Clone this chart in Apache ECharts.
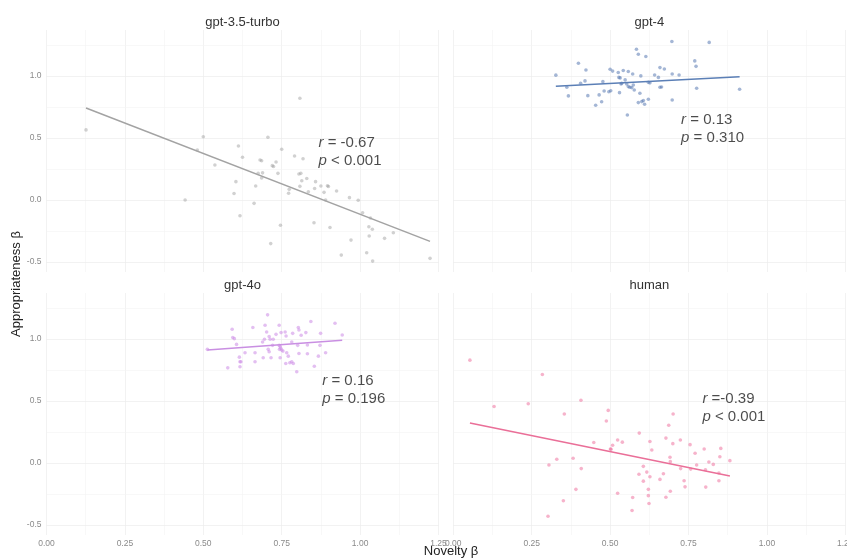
<!DOCTYPE html>
<html><head><meta charset="utf-8">
<script src="https://cdn.jsdelivr.net/npm/echarts@6/dist/echarts.min.js"></script>
<style>html,body{margin:0;padding:0;background:#fff}#c{width:847px;height:560px}</style>
</head><body><div id="c"></div>
<script>
const panelNames = ['gpt-3.5-turbo', 'gpt-4', 'gpt-4o', 'human'];
const yTickLabels = [-0.5, 0, 0.5, 1.0];
const yGridValues = [-0.5, -0.25, 0, 0.25, 0.5, 0.75, 1.0, 1.25];

const gpt35X = [0.126,0.442,0.481,0.500,0.537,0.598,0.604,0.612,0.617,0.625,0.662,0.667,0.675,0.681,0.686,0.689,0.686,0.706,0.715,0.720,0.724,0.732,0.738,0.746,0.750,0.772,0.774,0.791,0.808,0.805,0.811,0.814,0.818,0.808,0.830,0.835,0.853,0.858,0.855,0.875,0.885,0.890,0.896,0.899,0.904,0.925,0.940,0.966,0.971,0.994,1.008,1.021,1.028,1.029,1.033,1.039,1.040,1.078,1.106,1.223];
const gpt35Y = [0.565,0.000,0.403,0.510,0.282,0.052,0.148,0.435,-0.127,0.345,-0.027,0.113,0.215,0.323,0.317,0.219,0.177,0.506,-0.351,0.277,0.270,0.306,0.215,-0.203,0.409,0.054,0.086,0.355,0.820,0.210,0.215,0.155,0.333,0.110,0.173,0.067,-0.183,0.148,0.093,0.113,0.062,0.000,0.115,0.109,-0.222,0.073,-0.444,0.019,-0.323,-0.002,-0.102,-0.425,-0.215,-0.290,-0.145,-0.235,-0.492,-0.309,-0.264,-0.470];

const gpt4X = [0.327,0.362,0.367,0.399,0.406,0.420,0.423,0.429,0.454,0.465,0.473,0.477,0.481,0.496,0.502,0.500,0.508,0.526,0.532,0.528,0.530,0.535,0.537,0.542,0.548,0.555,0.558,0.553,0.558,0.563,0.569,0.574,0.577,0.572,0.584,0.590,0.590,0.601,0.606,0.610,0.595,0.598,0.614,0.622,0.627,0.622,0.642,0.654,0.659,0.659,0.664,0.673,0.697,0.698,0.698,0.720,0.770,0.774,0.776,0.816,0.913];
const gpt4Y = [1.006,0.909,0.839,1.102,0.941,0.960,1.048,0.841,0.764,0.847,0.792,0.954,0.879,0.873,0.881,1.054,1.039,1.028,0.984,0.988,0.865,0.935,0.941,1.044,0.968,0.685,1.035,0.935,0.914,0.909,0.906,0.927,0.887,1.015,1.215,1.175,0.785,0.793,0.801,0.772,0.860,1.000,1.156,0.948,0.944,0.812,1.008,0.988,1.067,0.909,0.911,1.056,1.277,1.015,0.806,1.008,1.121,1.077,0.901,1.270,0.893];

const gpt4oX = [0.513,0.578,0.592,0.594,0.599,0.606,0.615,0.617,0.620,0.617,0.633,0.658,0.665,0.665,0.691,0.689,0.695,0.697,0.705,0.702,0.707,0.710,0.710,0.713,0.716,0.721,0.723,0.732,0.742,0.742,0.745,0.743,0.747,0.745,0.748,0.750,0.754,0.761,0.764,0.766,0.763,0.771,0.776,0.782,0.787,0.782,0.785,0.803,0.805,0.801,0.805,0.798,0.812,0.827,0.832,0.832,0.843,0.854,0.867,0.874,0.872,0.890,0.920,0.943];
const gpt4oY = [0.916,0.767,1.078,1.011,1.002,0.956,0.853,0.816,0.816,0.776,0.889,1.092,0.816,0.889,0.848,0.975,0.997,1.110,1.194,1.056,0.916,0.897,1.019,0.997,0.848,0.948,0.997,1.037,1.110,0.948,0.938,0.916,0.924,0.848,1.051,0.910,0.902,1.056,1.024,0.889,0.802,0.861,0.808,0.816,0.802,0.975,1.045,1.092,1.072,0.948,0.883,0.735,1.029,1.051,0.951,0.881,1.140,0.780,0.861,1.045,0.948,0.889,1.126,1.032];

const humanX = [0.053,0.130,0.239,0.284,0.354,0.305,0.330,0.302,0.351,0.382,0.391,0.407,0.408,0.448,0.488,0.494,0.501,0.503,0.508,0.524,0.524,0.539,0.570,0.572,0.593,0.592,0.606,0.606,0.617,0.622,0.622,0.624,0.627,0.627,0.633,0.659,0.670,0.678,0.678,0.687,0.691,0.692,0.692,0.701,0.700,0.724,0.725,0.736,0.739,0.755,0.757,0.771,0.776,0.800,0.804,0.805,0.815,0.829,0.847,0.847,0.850,0.853,0.882];
const humanY = [0.829,0.456,0.478,0.713,0.395,-0.016,0.030,-0.429,-0.304,0.038,-0.212,0.506,-0.045,0.165,0.338,0.424,0.113,0.111,0.143,-0.243,0.186,0.168,-0.383,-0.278,0.241,-0.091,-0.027,-0.146,-0.073,-0.212,-0.263,-0.326,0.173,-0.111,0.105,-0.132,-0.087,0.201,-0.276,0.304,0.046,0.011,-0.227,0.395,0.156,0.186,-0.045,-0.143,-0.192,0.148,-0.049,0.079,-0.016,0.113,-0.054,-0.194,0.008,-0.011,-0.081,-0.143,0.051,0.118,0.019];

// fitted regression line end points
const gpt35FitX = [0.126, 1.223], gpt35FitY = [0.742, -0.333];
const gpt4FitX = [0.327, 0.913], gpt4FitY = [0.917, 0.994];
const gpt4oFitX = [0.513, 0.943], gpt4oFitY = [0.910, 0.990];
const humanFitX = [0.053, 0.882], humanFitY = [0.322, -0.105];

const rTexts = [' = -0.67', ' = 0.13', ' = 0.16', ' =-0.39'];
const pTexts = [' < 0.001', ' = 0.310', ' = 0.196', ' < 0.001'];
const annX = [0.869, 0.728, 0.881, 0.796];
const annY = [0.387, 0.573, 0.583, 0.438];

const pointsX = [gpt35X, gpt4X, gpt4oX, humanX];
const pointsY = [gpt35Y, gpt4Y, gpt4oY, humanY];
const fitsX = [gpt35FitX, gpt4FitX, gpt4oFitX, humanFitX];
const fitsY = [gpt35FitY, gpt4FitY, gpt4oFitY, humanFitY];

const pointColors = ['rgba(150,150,150,0.55)', 'rgba(80,115,175,0.65)', 'rgba(205,140,230,0.7)', 'rgba(238,110,155,0.65)'];
const lineColors = ['#a3a3a3', '#5b7fb6', '#c98fe2', '#ea6f98'];

const FONT = '"Liberation Sans", Arial, Helvetica, sans-serif';
const gridLeft = [46.5, 453.3, 46.5, 453.3];
const gridTop = [30, 30, 293, 293];
const PW = 392, PH = 242;

const zip = (xs, ys) => xs.map((x, i) => [x, ys[i]]);

const grids = [], xAxes = [], yAxes = [], series = [], graphics = [];
for (let i = 0; i < 4; i++) {
  grids.push({left: gridLeft[i], top: gridTop[i], width: PW, height: PH, containLabel: false, outerBoundsMode: 'none'});
  xAxes.push({
    type: 'value', gridIndex: i, min: 0, max: 1.25, interval: 0.25,
    axisLine: {show: false}, axisTick: {show: false},
    axisLabel: {show: i >= 2, fontSize: 8.5, color: '#8a8a8a', margin: 4, fontFamily: FONT,
      formatter: v => v.toFixed(2), showMinLabel: true, showMaxLabel: true, hideOverlap: false},
    splitLine: {show: true, lineStyle: {color: '#ececec', width: 0.7}},
    minorTick: {show: false, splitNumber: 2},
    minorSplitLine: {show: true, lineStyle: {color: '#f3f3f3', width: 0.6}}
  });
  yAxes.push({
    type: 'value', gridIndex: i, min: -0.58, max: 1.37,
    axisLine: {show: false},
    axisTick: {show: false, customValues: yTickLabels},
    axisLabel: {show: i % 2 === 0, fontSize: 8.5, color: '#8a8a8a', margin: 5, fontFamily: FONT,
      customValues: yTickLabels, formatter: v => v.toFixed(1)},
    splitLine: {show: false}
  });
  series.push({
    type: 'scatter', xAxisIndex: i, yAxisIndex: i, silent: true, z: 3,
    symbol: 'circle', symbolSize: 3.6,
    itemStyle: {color: pointColors[i], borderWidth: 0},
    data: zip(pointsX[i], pointsY[i])
  });
  series.push({
    type: 'line', xAxisIndex: i, yAxisIndex: i, silent: true, z: 4,
    showSymbol: false, symbol: 'none',
    lineStyle: {color: lineColors[i], width: 1.5},
    data: zip(fitsX[i], fitsY[i]),
    markLine: {
      silent: true, z: 1, symbol: ['none', 'none'], label: {show: false}, animation: false,
      data: yGridValues.map(v => ({
        yAxis: v,
        lineStyle: {color: (Math.abs(v * 2 - Math.round(v * 2)) < 1e-9) ? '#ececec' : '#f3f3f3',
          width: (Math.abs(v * 2 - Math.round(v * 2)) < 1e-9) ? 0.7 : 0.6, type: 'solid'}
      }))
    }
  });
  series.push({
    type: 'scatter', xAxisIndex: i, yAxisIndex: i, silent: true, z: 5,
    symbolSize: 1, itemStyle: {color: 'rgba(0,0,0,0)'},
    data: [[annX[i], annY[i]]],
    label: {
      show: true, position: [0, 0], align: 'left', verticalAlign: 'middle',
      formatter: '{i|r}{n|' + rTexts[i] + '}\n{i|p}{n|' + pTexts[i] + '}',
      rich: {
        i: {fontStyle: 'italic', fontSize: 15, color: '#1e1e1e', fontFamily: FONT, lineHeight: 18},
        n: {fontSize: 15, color: '#1e1e1e', fontFamily: FONT, lineHeight: 18}
      }
    }
  });
  graphics.push({
    type: 'text', x: gridLeft[i] + PW / 2, y: gridTop[i] - 7.5, silent: true,
    style: {text: panelNames[i], align: 'center', verticalAlign: 'middle', textAlign: 'center', textVerticalAlign: 'middle',
      fontSize: 13, fill: '#333333', fontFamily: FONT}
  });
}
graphics.push({
  type: 'text', x: 451, y: 551, silent: true,
  style: {text: 'Novelty β', align: 'center', verticalAlign: 'middle', textAlign: 'center', textVerticalAlign: 'middle',
    fontSize: 13, fill: '#222222', fontFamily: FONT}
});
graphics.push({
  type: 'text', x: 16, y: 284, rotation: Math.PI / 2, silent: true,
  style: {text: 'Appropriateness β', align: 'center', verticalAlign: 'middle', textAlign: 'center', textVerticalAlign: 'middle',
    fontSize: 13, fill: '#222222', fontFamily: FONT}
});

const chart = echarts.init(document.getElementById('c'), null, {renderer: 'canvas'});
chart.setOption({
  animation: false,
  backgroundColor: '#ffffff',
  textStyle: {fontFamily: FONT},
  grid: grids, xAxis: xAxes, yAxis: yAxes, series: series, graphic: graphics
});
</script>
</body></html>
